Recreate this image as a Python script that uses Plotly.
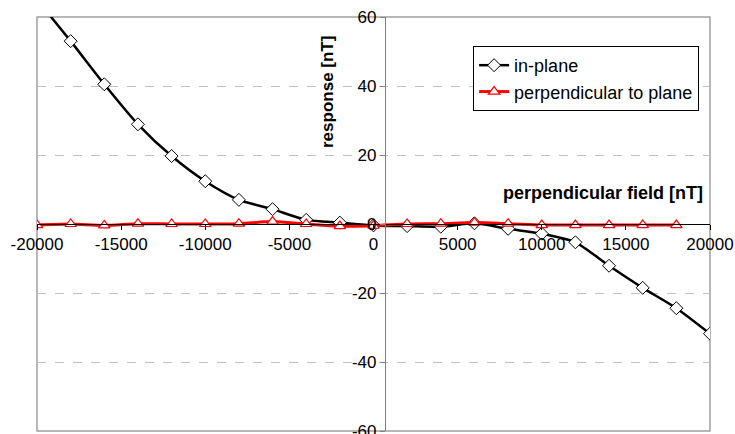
import plotly.graph_objects as go

# perpendicular field values [nT]
field = [-20000, -18000, -16000, -14000, -12000, -10000, -8000, -6000, -4000, -2000,
         0, 2000, 4000, 6000, 8000, 10000, 12000, 14000, 16000, 18000, 20000]
# response of the in-plane sensor [nT]
in_plane = [65.0, 53.0, 40.5, 28.9, 19.7, 12.4, 7.0, 4.3, 1.2, 0.4,
            -0.4, -0.6, -0.8, 0.2, -1.4, -2.8, -5.3, -12.1, -18.5, -24.4, -31.8]
# response of the sensor perpendicular to the plane [nT]
field_perp = [-20000, -18000, -16000, -14000, -12000, -10000, -8000, -6000, -4000, -2000,
              0, 2000, 4000, 6000, 8000, 10000, 12000, 14000, 16000, 18000]
perpendicular = [-0.3, 0.0, -0.4, 0.1, 0.0, 0.0, 0.1, 0.7, 0.0, -0.6,
                 -0.5, 0.0, 0.1, 0.4, 0.1, -0.3, -0.3, -0.3, -0.3, -0.3]

x_ticks = [-20000, -15000, -10000, -5000, 0, 5000, 10000, 15000, 20000]
x_ticklabels = ["-20000", "-15000", "-10000", "-5000", "0", "5000", "10000", "15000", "20000"]
y_ticks = [-60, -40, -20, 0, 20, 40, 60]
y_ticklabels = ["-60", "-40", "-20", "0", "20", "40", "60"]

FONT = "Arial, Liberation Sans, sans-serif"

fig = go.Figure()
fig.add_trace(go.Scatter(
    x=field, y=in_plane, name="in-plane", mode="lines+markers",
    line=dict(color="black", width=2.5, shape="spline", smoothing=0.7),
    marker=dict(symbol="diamond", size=10, color="white",
                line=dict(color="black", width=1)),
))
fig.add_trace(go.Scatter(
    x=field_perp, y=perpendicular, name="perpendicular to plane", mode="lines+markers",
    line=dict(color="#ff0000", width=3, shape="spline", smoothing=0.7),
    marker=dict(symbol="triangle-up", size=10, color="white",
                line=dict(color="#ff0000", width=1.2)),
))

fig.update_layout(
    width=735, height=434,
    margin=dict(l=37, r=25, t=17, b=3),
    paper_bgcolor="white", plot_bgcolor="white",
    font=dict(family=FONT, size=17, color="black"),
    showlegend=True,
    legend=dict(
        x=0.648, y=0.93, xanchor="left", yanchor="top",
        bgcolor="white", bordercolor="black", borderwidth=1,
        font=dict(family=FONT, size=18, color="black"),
        itemwidth=30, tracegroupgap=0,
    ),
    xaxis=dict(
        range=[-20000, 20000], anchor="free", position=0.5,
        showline=True, linecolor="black", linewidth=1,
        ticks="outside", ticklen=5, tickcolor="black",
        tickvals=x_ticks, ticktext=x_ticklabels,
        showgrid=False, zeroline=False, ticklabeloverflow="allow",
        automargin=False,
        tickfont=dict(family=FONT, size=17, color="black"),
    ),
    yaxis=dict(
        range=[-60, 60], anchor="free", position=0.517,
        showline=True, linecolor="#808080", linewidth=1,
        ticks="outside", ticklen=5, tickcolor="#808080",
        tickvals=y_ticks, ticktext=y_ticklabels,
        showgrid=True, gridcolor="#c0c0c0", griddash="dash", gridwidth=1,
        zeroline=False, ticklabeloverflow="allow", automargin=False,
        tickfont=dict(family=FONT, size=17, color="black"),
    ),
    shapes=[dict(type="rect", xref="paper", yref="paper", x0=0, x1=1, y0=0, y1=1,
                 line=dict(color="#a0a0a0", width=1.5), layer="below")],
    annotations=[
        dict(text="<b>response [nT]</b>", xref="paper", yref="paper",
             x=(327 - 37) / 673, y=1 - (92 - 17) / 414, textangle=-90,
             showarrow=False, xanchor="center", yanchor="middle",
             font=dict(family=FONT, size=17, color="black")),
        dict(text="<b>perpendicular field [nT]</b>", xref="paper", yref="paper",
             x=(705 - 37) / 673, y=1 - (193 - 17) / 414,
             showarrow=False, xanchor="right", yanchor="middle",
             font=dict(family=FONT, size=18, color="black")),
    ],
)

fig.write_html("out.html")
